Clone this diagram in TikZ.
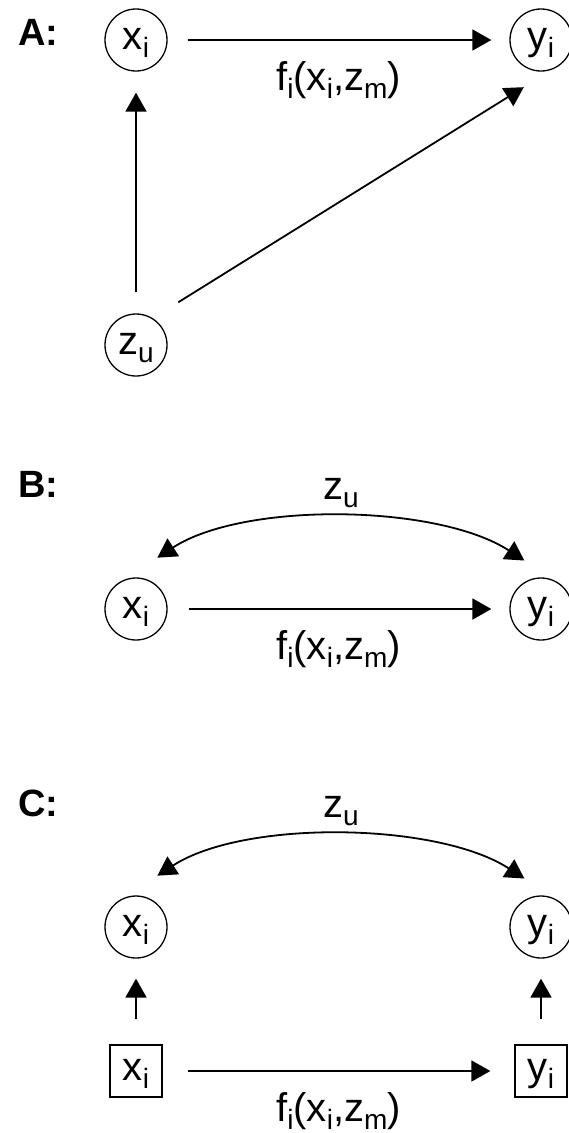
\documentclass[tikz,border=0pt]{standalone}
\usepackage{fontspec}
\setmainfont{Liberation Sans}
\usetikzlibrary{arrows.meta}

\newcommand{\lowidx}[1]{\raisebox{-0.2em}{\fontsize{28}{28}\selectfont #1}}

\begin{document}
\begin{tikzpicture}[
  x=1pt, y=1pt,
  every node/.style={font=\fontsize{40}{44}\selectfont},
  var/.style={draw, circle, line width=1.3pt, minimum size=62pt, inner sep=0pt,
              text height=28pt, text depth=10pt},
  obs/.style={draw, rectangle, line width=1.3pt, minimum size=52pt, inner sep=0pt,
              text height=28pt, text depth=10pt},
  tag/.style={anchor=base west, font=\fontsize{38}{40}\selectfont\bfseries},
  arr/.style={-{Triangle[length=19pt,width=21pt]}, line width=1.8pt},
  dbl/.style={{Triangle[length=19pt,width=21pt]}-{Triangle[length=19pt,width=21pt]}, line width=1.8pt},
  flab/.style={anchor=base, yshift=-50pt, inner sep=0.5pt},
  zlab/.style={anchor=base, yshift=23pt}
]
  \useasboundingbox (0,0) rectangle (568,-1133);

  % A: confounder drawn as node
  \node[tag] (labA) at (15,-45) {A:};
  \node[var] (xA) at (136,-40) {x\lowidx{i}};
  \node[var] (yA) at (541,-40) {y\lowidx{i}};
  \node[var] (zA) at (136,-345) {z\lowidx{u}};

  \draw[arr, shorten <=20pt, shorten >=18pt] (xA) -- node[flab] {f\lowidx{i}(x\lowidx{i},z\lowidx{m})} (yA);
  \draw[arr, shorten <=21pt, shorten >=21pt] (zA) -- (xA);
  \draw[arr, shorten <=30pt, shorten >=33pt] (zA.58) -- (yA.290);

  % B: confounder as bidirected edge
  \node[tag] (labB) at (15,-497) {B:};
  \node[var] (xB) at (136,-609) {x\lowidx{i}};
  \node[var] (yB) at (541,-609) {y\lowidx{i}};

  \draw[arr, shorten <=21pt, shorten >=18pt] (xB) -- node[flab] {f\lowidx{i}(x\lowidx{i},z\lowidx{m})} (yB);
  \draw[dbl, shorten <=42pt, shorten >=42pt] (xB.116) to[out=33, in=147, looseness=0.85]
    node[zlab] {z\lowidx{u}} (yB.54);

  % C: observed values
  \node[tag] (labC) at (15,-816) {C:};
  \node[var] (xC) at (136,-927) {x\lowidx{i}};
  \node[var] (yC) at (541,-927) {y\lowidx{i}};
  \node[obs] (xo) at (136,-1071) {x\lowidx{i}};
  \node[obs] (yo) at (541,-1071) {y\lowidx{i}};

  \draw[arr, shorten <=25pt, shorten >=20pt] (xo) -- (xC);
  \draw[arr, shorten <=25pt, shorten >=20pt] (yo) -- (yC);
  \draw[arr, shorten <=25pt, shorten >=24pt] (xo) -- node[flab] {f\lowidx{i}(x\lowidx{i},z\lowidx{m})} (yo);
  \draw[dbl, shorten <=42pt, shorten >=42pt] (xC.116) to[out=33, in=147, looseness=0.85]
    node[zlab] {z\lowidx{u}} (yC.54);
\end{tikzpicture}
\end{document}
